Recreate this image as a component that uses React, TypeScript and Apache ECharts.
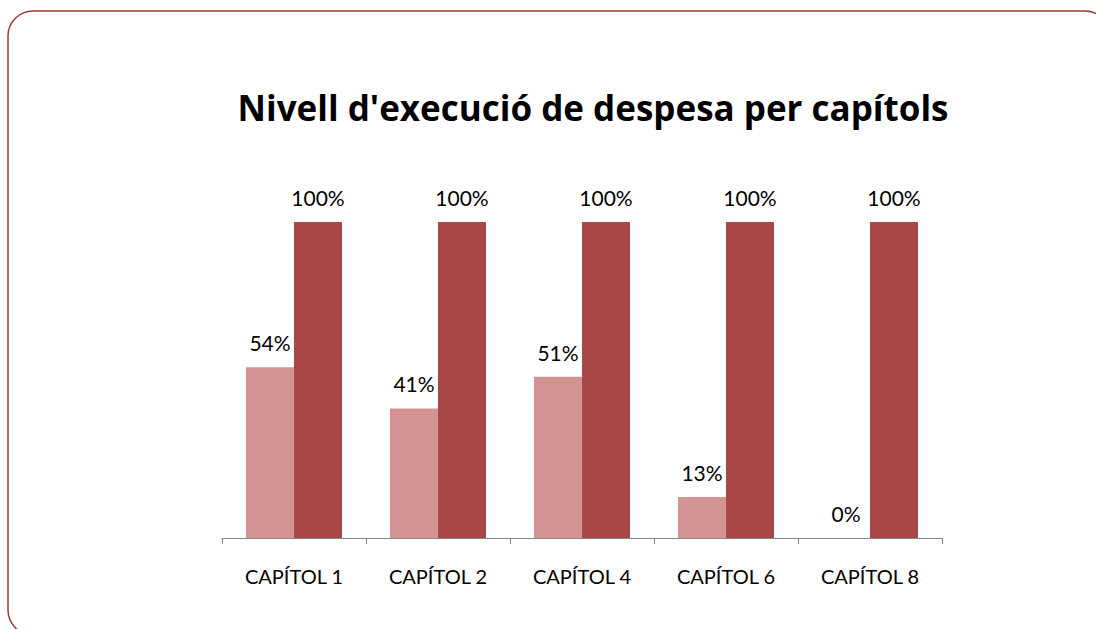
import React, { useEffect, useRef } from "react";
import * as echarts from "echarts";

const categories = ["CAPÍTOL 1", "CAPÍTOL 2", "CAPÍTOL 4", "CAPÍTOL 6", "CAPÍTOL 8"];
const executed = [54, 41, 51, 13, 0];
const budget = [100, 100, 100, 100, 100];
const title = "Nivell d'execució de despesa per capítols";

export default function App() {
  const ref = useRef<HTMLDivElement>(null);
  useEffect(() => {
    if (!ref.current) return;
    const chart = echarts.init(ref.current, null, { renderer: "svg" });
    const font = "Lato, sans-serif";
    const label = {
      show: true,
      position: "top" as const,
      distance: 14,
      formatter: "{c}%",
      color: "#000",
      fontSize: 21,
      fontFamily: font,
    };
    chart.setOption({
      animation: false,
      backgroundColor: "#fff",
      title: {
        text: title,
        left: 588,
        textAlign: "center",
        top: 85,
        textStyle: { fontSize: 35, fontWeight: "bold", color: "#000", fontFamily: "Open Sans, sans-serif" },
      },
      graphic: [
        {
          type: "rect",
          shape: { x: 8, y: 11, width: 1102, height: 624, r: 25 },
          style: { fill: "none", stroke: "#9b3b3a", lineWidth: 1.5 },
          silent: true,
        },
      ],
      grid: { left: 222, right: 154, top: 222, bottom: 91 },
      xAxis: {
        type: "category",
        data: categories,
        axisLine: { lineStyle: { color: "#888", width: 1 } },
        axisTick: { show: true, length: 6, lineStyle: { color: "#888" } },
        axisLabel: { color: "#000", fontSize: 20, fontFamily: font, margin: 28 },
      },
      yAxis: {
        type: "value",
        min: 0,
        max: 100,
        show: false,
        splitLine: { show: false },
      },
      series: [
        {
          type: "bar",
          data: executed,
          barGap: "0%",
          barCategoryGap: "33.3%",
          itemStyle: { color: "#d39392" },
          label,
        },
        {
          type: "bar",
          data: budget,
          itemStyle: { color: "#a84846" },
          label,
        },
      ],
    });
    return () => chart.dispose();
  }, []);
  return (
    <div
      ref={ref}
      style={{ position: "fixed", left: 0, top: 0, width: 1096, height: 629 }}
    />
  );
}
